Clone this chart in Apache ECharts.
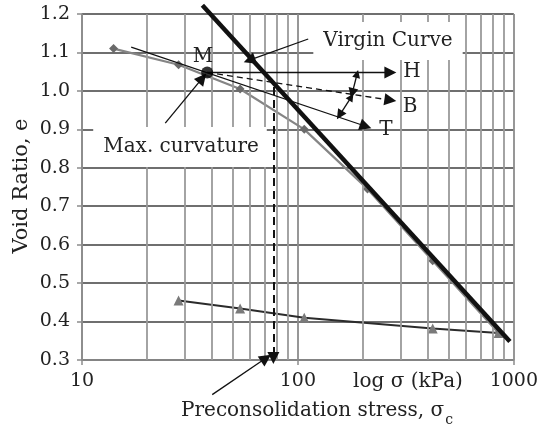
<!DOCTYPE html>
<html><head><meta charset="utf-8">
<script src="https://cdn.jsdelivr.net/npm/echarts@6/dist/echarts.min.js"></script>
<style>html,body{margin:0;padding:0;background:#fff}#c{width:541px;height:427px}</style>
</head><body><div id="c"></div>
<script>
// ---- data ----
const stressMain = [14, 28, 54, 107, 210, 421, 850];
const voidMain = [1.11, 1.068, 1.005, 0.90, 0.745, 0.558, 0.37];
const stressRebound = [28, 54, 107, 421, 850];
const voidRebound = [0.455, 0.434, 0.41, 0.382, 0.37];
const virginStress = [36.1, 959];
const virginVoid = [1.223, 0.348];
const pointM = [38, 1.048];
const minorStress = [20, 30, 40, 50, 60, 70, 80, 90, 200, 300, 400, 500, 600, 700, 800, 900];
const xTickLabels = ['10', '100', '1000'];
const yTickLabels = ['0.3', '0.4', '0.5', '0.6', '0.7', '0.8', '0.9', '1.0', '1.1', '1.2'];
// annotation segments [from, to] in data units
const lineH = [[38, 1.048], [268, 1.048]];
const lineB = [[38, 1.048], [268, 0.976]];
const lineT = [[16.9, 1.114], [206, 0.908]];
const arrowHB = [[188, 1.044], [178.5, 0.994]];
const arrowBT = [[176.6, 0.984], [156, 0.937]];
const preconLine = [[77, 1.01], [77, 0.305]];
const virginPointer = [[111.6, 1.135], [59.6, 1.08]];
const curvaturePointer = [[24.3, 0.916], [36.1, 1.033]];
const preconPointer = [[40.1, 0.21], [71.2, 0.305]];

const FONT = 'DejaVu Serif';
const chart = echarts.init(document.getElementById('c'));
const GRID = '#8c8c8c';
const txt = (text, x, y, size, extra) => ({type: 'text', x, y, z: 10,
  style: Object.assign({text, font: size + 'px "' + FONT + '"', fill: '#222',
    textAlign: 'center', textVerticalAlign: 'middle'}, extra || {})});

const single = [
  {coords: lineH},
  {coords: lineB, lineStyle: {type: [6, 4]}},
  {coords: lineT},
  {coords: preconLine, lineStyle: {type: [8, 5], width: 2}},
  {coords: virginPointer},
  {coords: curvaturePointer},
  {coords: preconPointer}
];
const double = [{coords: arrowHB}, {coords: arrowBT}];

chart.setOption({
  animation: false,
  grid: {left: 82, right: 18, top: 14, bottom: 67},
  xAxis: {
    type: 'log', logBase: 10, min: 10, max: 1000,
    axisLine: {show: true, lineStyle: {color: GRID, width: 1.5}},
    axisTick: {show: true, length: 5, lineStyle: {color: GRID, width: 1.5}},
    splitLine: {show: true, lineStyle: {color: GRID, width: 1.8}},
    axisLabel: {fontFamily: FONT, fontSize: 19, color: '#222', margin: 12,
      formatter: v => xTickLabels.find(t => Math.abs(+t - v) < 1e-6) || ''}
  },
  yAxis: {
    type: 'value', min: 0.3, max: 1.2, interval: 0.1,
    axisLine: {show: true, lineStyle: {color: GRID, width: 1.5}},
    axisTick: {show: true, length: 5, lineStyle: {color: GRID, width: 1.5}},
    splitLine: {show: true, lineStyle: {color: '#6f6f6f', width: 1.8}},
    axisLabel: {fontFamily: FONT, fontSize: 19, color: '#222', margin: 12,
      formatter: v => yTickLabels[Math.round((v - 0.3) * 10)] || ''}
  },
  series: [
    {type: 'line', data: [], z: 1, silent: true,
      markLine: {silent: true, symbol: ['none', 'none'], label: {show: false},
        lineStyle: {color: '#9a9a9a', width: 1.8, type: 'solid'},
        data: minorStress.map(v => ({xAxis: v}))}},
    {type: 'line', data: stressMain.map((s, i) => [s, voidMain[i]]),
      symbol: 'diamond', symbolSize: 9, z: 3,
      lineStyle: {color: '#858585', width: 2.2}, itemStyle: {color: '#6a6a6a'}},
    {type: 'line', data: stressRebound.map((s, i) => [s, voidRebound[i]]),
      symbol: 'triangle', symbolSize: 10, z: 3,
      lineStyle: {color: '#2b2b2b', width: 2}, itemStyle: {color: '#7a7a7a'}},
    {type: 'line', data: virginStress.map((s, i) => [s, virginVoid[i]]),
      symbol: 'none', clip: false, z: 5,
      lineStyle: {color: '#111', width: 4.5}},
    {type: 'lines', coordinateSystem: 'cartesian2d', clip: false, z: 6,
      symbol: ['none', 'triangle'], symbolSize: [9, 12],
      lineStyle: {color: '#111', width: 1.3, opacity: 1}, data: single},
    {type: 'lines', coordinateSystem: 'cartesian2d', clip: false, z: 6,
      symbol: ['triangle', 'triangle'], symbolSize: [8, 10],
      lineStyle: {color: '#111', width: 1.3, opacity: 1}, data: double},
    {type: 'scatter', data: [pointM], symbolSize: 12, z: 7,
      itemStyle: {color: '#000'}}
  ],
  graphic: [
    Object.assign(txt('Void Ratio, e', 22, 186, 21), {rotation: Math.PI / 2}),
    txt('log σ (kPa)', 408, 382, 20),
    txt('Virgin Curve', 388, 41, 20, {backgroundColor: '#fff', padding: [9, 10, 9, 10]}),
    txt('Max. curvature', 180, 147, 20, {backgroundColor: '#fff', padding: [10, 8, 10, 10]}),
    txt('M', 203, 57, 20),
    txt('H', 412, 72, 20),
    txt('B', 410, 107, 20),
    txt('T', 386, 130, 20),
    {type: 'text', x: 317, y: 411, z: 10,
      style: {text: '{a|Preconsolidation stress, σ}{s|c}', textAlign: 'center', textVerticalAlign: 'middle',
        rich: {a: {fontFamily: FONT, fontSize: 20, fill: '#222', lineHeight: 24},
               s: {fontFamily: FONT, fontSize: 14, fill: '#222', lineHeight: 13, verticalAlign: 'bottom', padding: [0, 0, -4, 1]}}}}
  ]
});
</script></body></html>
